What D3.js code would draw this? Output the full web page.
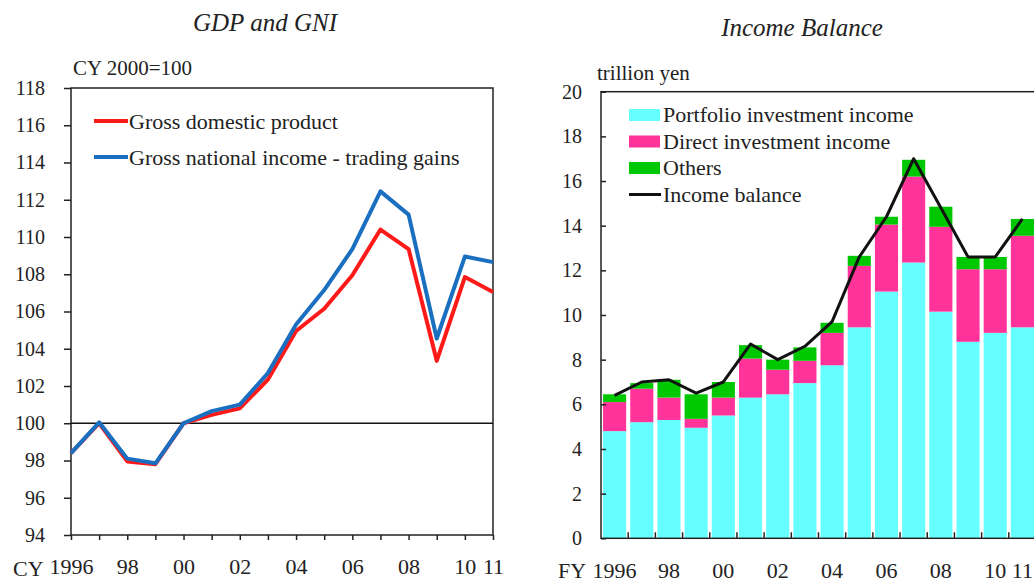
<!DOCTYPE html>
<html>
<head>
<meta charset="utf-8">
<script src="https://cdn.jsdelivr.net/npm/d3@7"></script>
<style>
  body { margin: 0; background: #fff; }
  svg { display: block; font-family: "Liberation Serif", "Times New Roman", serif; }
  .domain { display: none; }
</style>
</head>
<body>
<svg id="chart" width="1034" height="582"></svg>
<script>
// ---- data: GDP and GNI (CY 2000=100)
var cyYears = [1996, 1997, 1998, 1999, 2000, 2001, 2002, 2003, 2004, 2005, 2006, 2007, 2008, 2009, 2010, 2011];
var gdp = [98.4, 100.0, 97.95, 97.8, 100.0, 100.45, 100.8, 102.35, 104.95, 106.15, 107.95, 110.4, 109.35, 103.35, 107.85, 107.05];
var gni = [98.4, 100.05, 98.1, 97.85, 100.0, 100.65, 101.0, 102.7, 105.3, 107.15, 109.35, 112.45, 111.2, 104.55, 108.95, 108.65];
var cyTickLabels = {1996: "1996", 1998: "98", 2000: "00", 2002: "02", 2004: "04", 2006: "06", 2008: "08", 2010: "10", 2011: "11"};
var leftYTicks = [94, 96, 98, 100, 102, 104, 106, 108, 110, 112, 114, 116, 118];

// ---- data: Income balance (trillion yen)
var fyYears = [1996, 1997, 1998, 1999, 2000, 2001, 2002, 2003, 2004, 2005, 2006, 2007, 2008, 2009, 2010, 2011];
var portfolio = [4.8, 5.2, 5.3, 4.95, 5.5, 6.3, 6.45, 6.95, 7.75, 9.45, 11.05, 12.35, 10.15, 8.8, 9.2, 9.45];
var direct = [1.3, 1.5, 1.0, 0.4, 0.8, 1.75, 1.1, 1.0, 1.45, 2.75, 3.0, 3.85, 3.8, 3.25, 2.85, 4.1];
var others = [0.35, 0.25, 0.8, 1.1, 0.7, 0.6, 0.45, 0.6, 0.45, 0.45, 0.35, 0.75, 0.9, 0.55, 0.55, 0.75];
var incomeBalance = [6.4, 7.0, 7.1, 6.5, 7.0, 8.7, 8.0, 8.6, 9.7, 12.6, 14.4, 17.0, 14.8, 12.6, 12.6, 14.3];
var fyTickLabels = {1996: "1996", 1998: "98", 2000: "00", 2002: "02", 2004: "04", 2006: "06", 2008: "08", 2010: "10", 2011: "11"};
var rightYTicks = [0, 2, 4, 6, 8, 10, 12, 14, 16, 18, 20];

var svg = d3.select("#chart");

// ================= left chart =================
var lx = d3.scaleLinear().domain([1996, 2011]).range([71, 493]);
var ly = d3.scaleLinear().domain([94, 118]).range([535, 88]);
var left = svg.append("g");

left.append("text").attr("x", 265).attr("y", 31).attr("text-anchor", "middle")
    .attr("font-style", "italic").attr("font-size", 25).attr("fill", "#222").text("GDP and GNI");
left.append("text").attr("x", 73).attr("y", 75).attr("font-size", 21).attr("fill", "#222").text("CY 2000=100");

// frame
left.append("rect").attr("x", lx.range()[0]).attr("y", ly(118))
    .attr("width", lx.range()[1] - lx.range()[0]).attr("height", ly(94) - ly(118))
    .attr("fill", "none").attr("stroke", "#222").attr("stroke-width", 1.5);

var lyAxis = left.append("g").attr("transform", "translate(" + lx.range()[0] + ",0)")
    .call(d3.axisLeft(ly).tickValues(leftYTicks).tickSize(7).tickPadding(19));
lyAxis.selectAll("line").attr("stroke", "#222").attr("stroke-width", 1.5);
lyAxis.selectAll("text").attr("font-size", 20).attr("font-family", "Liberation Serif").attr("fill", "#222");

var lxAxis = left.append("g").attr("transform", "translate(0," + ly(94) + ")")
    .call(d3.axisBottom(lx).tickValues(cyYears).tickSize(5).tickPadding(18)
        .tickFormat(function(d){ return cyTickLabels[d] || ""; }));
lxAxis.selectAll("line").attr("stroke", "#222").attr("stroke-width", 1.5);
lxAxis.selectAll("text").attr("font-size", 22).attr("font-family", "Liberation Serif").attr("fill", "#222");
left.append("text").attr("x", 13).attr("y", 576).attr("font-size", 22).attr("fill", "#222").text("CY");

// base line at 100
left.append("line").attr("x1", lx(1996)).attr("x2", lx(2011)).attr("y1", ly(100)).attr("y2", ly(100))
    .attr("stroke", "#111").attr("stroke-width", 1.5);

var line = d3.line().x(function(d, i){ return lx(cyYears[i]); }).y(function(d){ return ly(d); });
left.append("path").datum(gdp).attr("d", line).attr("fill", "none")
    .attr("stroke", "#ff1a1a").attr("stroke-width", 4).attr("stroke-linejoin", "round");
left.append("path").datum(gni).attr("d", line).attr("fill", "none")
    .attr("stroke", "#1a6fc0").attr("stroke-width", 4).attr("stroke-linejoin", "round");

// legend
var lLegend = [["Gross domestic product", "#ff1a1a"], ["Gross national income - trading gains", "#1a6fc0"]];
lLegend.forEach(function(d, i) {
    var yy = 121 + i * 36;
    left.append("line").attr("x1", 94).attr("x2", 128).attr("y1", yy).attr("y2", yy)
        .attr("stroke", d[1]).attr("stroke-width", 4);
    left.append("text").attr("x", 129).attr("y", yy + 8).attr("font-size", 22).attr("fill", "#222").text(d[0]);
});

// ================= right chart =================
var rx = d3.scaleBand().domain(fyYears).range([601, 1036]).paddingInner(0.15).paddingOuter(0.075);
var ry = d3.scaleLinear().domain([0, 20]).range([538.3, 91.7]);
var right = svg.append("g");

right.append("text").attr("x", 802).attr("y", 36).attr("text-anchor", "middle")
    .attr("font-style", "italic").attr("font-size", 25).attr("fill", "#222").text("Income Balance");
right.append("text").attr("x", 597).attr("y", 80).attr("font-size", 21).attr("fill", "#222").text("trillion yen");

var keys = ["portfolio", "direct", "others"];
var colors = {portfolio: "#66ffff", direct: "#ff3399", others: "#00c800"};
var rows = fyYears.map(function(y, i) {
    return {year: y, portfolio: portfolio[i], direct: direct[i], others: others[i]};
});
var stacked = d3.stack().keys(keys)(rows);

right.selectAll("g.layer").data(stacked).enter().append("g").attr("class", "layer")
    .attr("fill", function(d){ return colors[d.key]; })
  .selectAll("rect").data(function(d){ return d; }).enter().append("rect")
    .attr("x", function(d){ return rx(d.data.year); })
    .attr("width", rx.bandwidth())
    .attr("y", function(d){ return ry(d[1]); })
    .attr("height", function(d){ return ry(d[0]) - ry(d[1]); });

right.append("rect").attr("x", 601).attr("y", ry(20)).attr("width", 1036 - 601).attr("height", ry(0) - ry(20))
    .attr("fill", "none").attr("stroke", "#222").attr("stroke-width", 1.5);

var ryAxis = right.append("g").attr("transform", "translate(601,0)")
    .call(d3.axisLeft(ry).tickValues(rightYTicks).tickSize(-5).tickPadding(19));
ryAxis.selectAll("line").attr("stroke", "#222").attr("stroke-width", 1.5);
ryAxis.selectAll("text").attr("font-size", 20).attr("font-family", "Liberation Serif").attr("fill", "#222");

// tick marks sit between the bars
var rxTicks = right.append("g");
rxTicks.selectAll("line").data(fyYears.slice(1)).enter().append("line")
    .attr("x1", function(d){ return rx(d) - rx.step() * rx.paddingInner() / 2; })
    .attr("x2", function(d){ return rx(d) - rx.step() * rx.paddingInner() / 2; })
    .attr("y1", ry(0)).attr("y2", ry(0) - 6).attr("stroke", "#222").attr("stroke-width", 1.5);

var rxAxis = right.append("g").attr("transform", "translate(0," + ry(0) + ")")
    .call(d3.axisBottom(rx).tickSize(0).tickPadding(24)
        .tickFormat(function(d){ return fyTickLabels[d] || ""; }));
rxAxis.selectAll("text").attr("font-size", 22).attr("font-family", "Liberation Serif").attr("fill", "#222");
right.append("text").attr("x", 558).attr("y", 578).attr("font-size", 22).attr("fill", "#222").text("FY");

var bline = d3.line().x(function(d, i){ return rx(fyYears[i]) + rx.bandwidth() / 2; }).y(function(d){ return ry(d); });
right.append("path").datum(incomeBalance).attr("d", bline).attr("fill", "none")
    .attr("stroke", "#111").attr("stroke-width", 3).attr("stroke-linejoin", "round");

// legend
var rLegend = [["Portfolio investment income", colors.portfolio], ["Direct investment income", colors.direct],
               ["Others", colors.others], ["Income balance", null]];
rLegend.forEach(function(d, i) {
    var yy = 115 + i * 26.5;
    if (d[1]) {
        right.append("rect").attr("x", 629).attr("y", yy - 6).attr("width", 31).attr("height", 12).attr("fill", d[1]);
    } else {
        right.append("line").attr("x1", 629).attr("x2", 661).attr("y1", yy).attr("y2", yy)
            .attr("stroke", "#111").attr("stroke-width", 3);
    }
    right.append("text").attr("x", 663).attr("y", yy + 7).attr("font-size", 22).attr("fill", "#222").text(d[0]);
});
</script>
</body>
</html>
